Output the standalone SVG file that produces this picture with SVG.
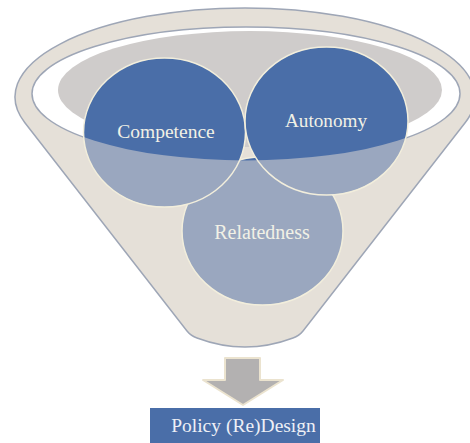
<svg xmlns="http://www.w3.org/2000/svg" width="470" height="443" viewBox="0 0 470 443">
<style>
.lbl{font-family:"Liberation Serif","Times New Roman",serif;fill:#f1f1e6;text-anchor:middle}
.light{fill:#9aa7bf}
.dark{fill:#4a6ea8}
.edge{fill:none;stroke:#f2eedc;stroke-width:1.5}
</style>
<defs>
<clipPath id="ring"><ellipse cx="246" cy="93.7" rx="214" ry="66.7"/></clipPath>
</defs>
<rect width="470" height="443" fill="#ffffff"/>
<g id="funnel">
<path d="M24.7,122.5 A230,89 0 1 1 465.3,122.5 L303,331 Q299,336 293,338 Q245,356 197,338 Q191,336 187,331 Z" fill="#e5e0d8" stroke="#9ea6b6" stroke-width="1.5" stroke-linejoin="round"/>
<ellipse cx="246" cy="93.7" rx="214" ry="66.7" fill="#ffffff" stroke="#9ea6b6" stroke-width="1.5"/>
<ellipse cx="250" cy="90" rx="192" ry="59" fill="#cfcccb"/>
<polygon points="244,147 252,147 258,161 238,161" fill="#e5e0d8"/>
</g>
<g id="relatedness">
<ellipse class="light" cx="262.5" cy="231" rx="80.5" ry="74"/>
<ellipse class="dark" cx="262.5" cy="231" rx="80.5" ry="74" clip-path="url(#ring)"/>
<ellipse class="edge" cx="262.5" cy="231" rx="80.5" ry="74"/>
<text class="lbl" x="262" y="239" font-size="20">Relatedness</text>
</g>
<g id="competence">
<ellipse class="light" cx="164.5" cy="132.5" rx="81" ry="74.5"/>
<ellipse class="dark" cx="164.5" cy="132.5" rx="81" ry="74.5" clip-path="url(#ring)"/>
<ellipse class="edge" cx="164.5" cy="132.5" rx="81" ry="74.5"/>
<text class="lbl" x="166" y="138" font-size="19.5">Competence</text>
</g>
<g id="autonomy">
<ellipse class="light" cx="326.5" cy="121" rx="81.5" ry="74"/>
<ellipse class="dark" cx="326.5" cy="121" rx="81.5" ry="74" clip-path="url(#ring)"/>
<ellipse class="edge" cx="326.5" cy="121" rx="81.5" ry="74"/>
<text class="lbl" x="326" y="127" font-size="19.2">Autonomy</text>
</g>
<g id="connectors">
<path d="M225,358 L260,358 L260,380 L283,380 L243,405 L203,380 L225,380 Z" fill="#b3b1b1" stroke="#ebe3cf" stroke-width="2" stroke-linejoin="round"/>
</g>
<g id="policy">
<rect x="150" y="408" width="170" height="40" fill="#4a6ea8"/>
<text class="lbl" x="243.5" y="432" font-size="19.5" style="fill:#eef0f6">Policy (Re)Design</text>
</g>
</svg>
